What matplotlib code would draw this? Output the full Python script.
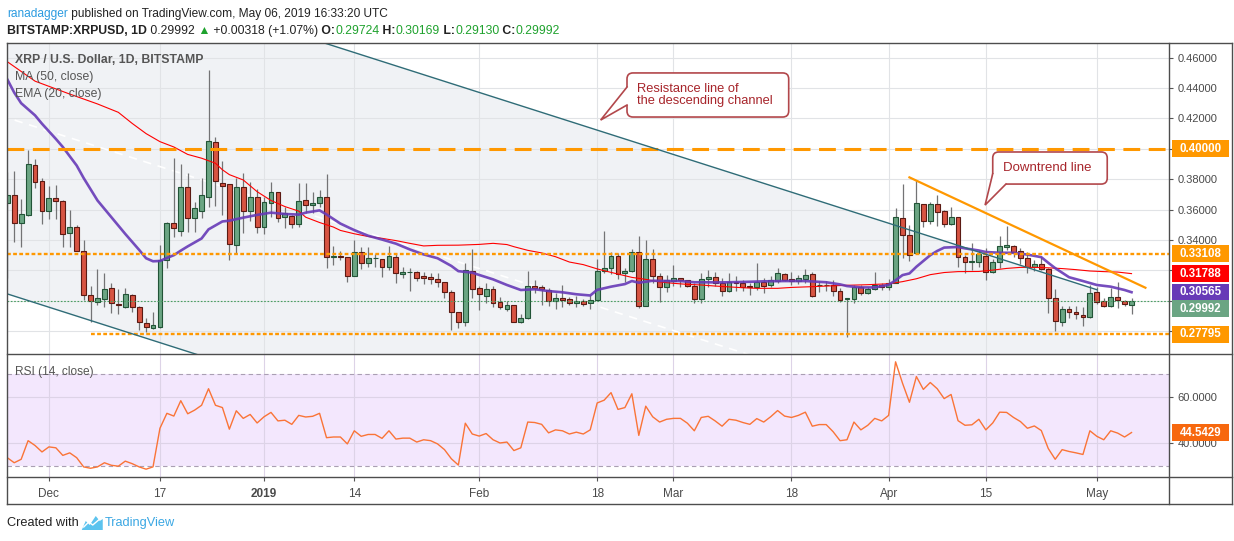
import numpy as np
import pandas as pd
import matplotlib
matplotlib.use("Agg")
import matplotlib.pyplot as plt
from matplotlib.patches import Rectangle, Polygon, FancyBboxPatch

plt.rcParams['font.family'] = ['Liberation Sans', 'DejaVu Sans']

W, H = 1234, 541

# ---------------------------------------------------------------- data
start_date = "2018-11-25"

opens = [
    0.3645, 0.3696, 0.3514, 0.3562, 0.3891, 0.3786, 0.3590, 0.3674, 0.3654, 0.3444,
    0.3483, 0.3330, 0.3036, 0.2990, 0.3014, 0.3082, 0.2979, 0.2957, 0.3036, 0.2961,
    0.2852, 0.2819, 0.2830, 0.3268, 0.3514, 0.3461, 0.3746, 0.3542, 0.3593, 0.3685,
    0.4042, 0.3777, 0.3766, 0.3364, 0.3746, 0.3593, 0.3681, 0.3488, 0.3645, 0.3713,
    0.3549, 0.3558, 0.3503, 0.3663, 0.3628, 0.3641, 0.3681, 0.3290, 0.3292, 0.3286,
    0.3163, 0.3319, 0.3247, 0.3279, 0.3273, 0.3225, 0.3286, 0.3174, 0.3187, 0.3187,
    0.3163, 0.3159, 0.3141, 0.3122, 0.3056, 0.2924, 0.2863, 0.3196, 0.3082, 0.3034,
    0.3075, 0.2990, 0.2948, 0.2970, 0.2863, 0.2885, 0.3095, 0.3088, 0.3071, 0.2996,
    0.3016, 0.3009, 0.2983, 0.2999, 0.2983, 0.3005, 0.3194, 0.3218, 0.3295, 0.3181,
    0.3194, 0.3319, 0.2968, 0.3273, 0.3161, 0.3093, 0.3132, 0.3148, 0.3135, 0.3097,
    0.3014, 0.3141, 0.3154, 0.3115, 0.3067, 0.3121, 0.3115, 0.3097, 0.3088, 0.3121,
    0.3102, 0.3130, 0.3176, 0.3141, 0.3132, 0.3146, 0.3176, 0.3102, 0.3102, 0.3102,
    0.3067, 0.3012, 0.3014, 0.3088, 0.3049, 0.3075, 0.3106, 0.3088, 0.3119, 0.3542,
    0.3430, 0.3312, 0.3634, 0.3527, 0.3634, 0.3590, 0.3503, 0.3549, 0.3290, 0.3255,
    0.3257, 0.3297, 0.3191, 0.3257, 0.3356, 0.3362, 0.3327, 0.3283, 0.3224, 0.3244,
    0.3207, 0.3016, 0.2862, 0.2944, 0.2924, 0.2906, 0.2891, 0.3060, 0.3000, 0.2965,
    0.3027, 0.3000, 0.29724]

highs = [
    0.3850, 0.3854, 0.3667, 0.3992, 0.3931, 0.3806, 0.3757, 0.3762, 0.3660, 0.3597,
    0.3498, 0.3400, 0.3097, 0.3209, 0.3180, 0.3120, 0.3075, 0.3086, 0.3042, 0.2965,
    0.2889, 0.2924, 0.3367, 0.3520, 0.3937, 0.3900, 0.3838, 0.3652, 0.3806, 0.4518,
    0.4075, 0.3922, 0.3770, 0.3806, 0.3839, 0.3784, 0.3733, 0.3685, 0.3784, 0.3718,
    0.3619, 0.3565, 0.3773, 0.3773, 0.3718, 0.3729, 0.3834, 0.3363, 0.3325, 0.3290,
    0.3400, 0.3356, 0.3356, 0.3308, 0.3278, 0.3361, 0.3308, 0.3225, 0.3214, 0.3198,
    0.3192, 0.3181, 0.3181, 0.3126, 0.3071, 0.2928, 0.3247, 0.3338, 0.3097, 0.3115,
    0.3097, 0.3023, 0.2999, 0.2975, 0.2913, 0.3198, 0.3137, 0.3104, 0.3082, 0.3049,
    0.3104, 0.3023, 0.3031, 0.3010, 0.3038, 0.3273, 0.3459, 0.3323, 0.3312, 0.3216,
    0.3338, 0.3426, 0.3400, 0.3338, 0.3185, 0.3170, 0.3235, 0.3152, 0.3138, 0.3115,
    0.3185, 0.3202, 0.3187, 0.3148, 0.3181, 0.3163, 0.3137, 0.3115, 0.3250, 0.3148,
    0.3163, 0.3214, 0.3180, 0.3192, 0.3170, 0.3209, 0.3189, 0.3128, 0.3128, 0.3137,
    0.3082, 0.3020, 0.3104, 0.3104, 0.3088, 0.3189, 0.3119, 0.3146, 0.3608, 0.3768,
    0.3498, 0.3794, 0.3640, 0.3652, 0.3696, 0.3595, 0.3619, 0.3553, 0.3301, 0.3382,
    0.3334, 0.3345, 0.3273, 0.3426, 0.3492, 0.3366, 0.3345, 0.3323, 0.3268, 0.3290,
    0.3213, 0.3075, 0.2966, 0.2968, 0.2966, 0.2961, 0.3104, 0.3088, 0.3016, 0.3082,
    0.3126, 0.3005, 0.30169]

lows = [
    0.3150, 0.3389, 0.3356, 0.3555, 0.3740, 0.3503, 0.3536, 0.3536, 0.3356, 0.3356,
    0.3325, 0.3005, 0.2862, 0.2972, 0.2961, 0.2917, 0.2910, 0.2950, 0.2924, 0.2808,
    0.2797, 0.2812, 0.2823, 0.3213, 0.3422, 0.3426, 0.3450, 0.3450, 0.3542, 0.3619,
    0.3623, 0.3564, 0.3270, 0.3316, 0.3444, 0.3527, 0.3444, 0.3440, 0.3554, 0.3516,
    0.3477, 0.3480, 0.3487, 0.3575, 0.3575, 0.3620, 0.3214, 0.3235, 0.3268, 0.3126,
    0.3160, 0.3207, 0.3225, 0.3220, 0.3159, 0.3203, 0.3115, 0.3148, 0.3067, 0.3133,
    0.3111, 0.3111, 0.3093, 0.3021, 0.2808, 0.2819, 0.2837, 0.3016, 0.2939, 0.2983,
    0.2957, 0.2944, 0.2935, 0.2860, 0.2857, 0.2878, 0.3053, 0.2972, 0.2966, 0.2948,
    0.2961, 0.2972, 0.2961, 0.2966, 0.2944, 0.2999, 0.3185, 0.3176, 0.3143, 0.3124,
    0.3190, 0.2950, 0.2965, 0.3115, 0.2990, 0.3058, 0.3097, 0.3093, 0.3088, 0.2983,
    0.2983, 0.3093, 0.3097, 0.3031, 0.3060, 0.3067, 0.3067, 0.3038, 0.3071, 0.3049,
    0.3088, 0.3119, 0.3132, 0.3104, 0.3110, 0.3115, 0.3027, 0.3060, 0.3067, 0.3031,
    0.2990, 0.2759, 0.2988, 0.3038, 0.3045, 0.3071, 0.3071, 0.3071, 0.3115, 0.3279,
    0.3264, 0.3305, 0.3483, 0.3505, 0.3494, 0.3487, 0.3498, 0.3224, 0.3185, 0.3202,
    0.3220, 0.3137, 0.3180, 0.3213, 0.3334, 0.3290, 0.3242, 0.3180, 0.3198, 0.3202,
    0.2922, 0.2803, 0.2836, 0.2884, 0.2878, 0.2836, 0.2889, 0.2979, 0.2961, 0.2961,
    0.2950, 0.2968, 0.29130]

closes = [
    0.3696, 0.3514, 0.3571, 0.3898, 0.3779, 0.3590, 0.3674, 0.3654, 0.3437, 0.3483,
    0.3330, 0.3036, 0.3001, 0.3016, 0.3075, 0.2983, 0.2975, 0.3042, 0.2961, 0.2858,
    0.2825, 0.2839, 0.3268, 0.3514, 0.3477, 0.3746, 0.3542, 0.3613, 0.3694, 0.4051,
    0.3790, 0.3757, 0.3371, 0.3746, 0.3593, 0.3681, 0.3488, 0.3650, 0.3713, 0.3547,
    0.3575, 0.3503, 0.3654, 0.3628, 0.3641, 0.3681, 0.3286, 0.3292, 0.3288, 0.3163,
    0.3323, 0.3247, 0.3282, 0.3283, 0.3225, 0.3295, 0.3181, 0.3187, 0.3189, 0.3148,
    0.3148, 0.3146, 0.3122, 0.3056, 0.2929, 0.2863, 0.3203, 0.3080, 0.3047, 0.3078,
    0.2988, 0.2957, 0.2970, 0.2863, 0.2887, 0.3095, 0.3084, 0.3080, 0.2996, 0.3018,
    0.3007, 0.2983, 0.2999, 0.2977, 0.3005, 0.3194, 0.3218, 0.3295, 0.3176, 0.3196,
    0.3319, 0.2968, 0.3273, 0.3165, 0.3093, 0.3137, 0.3148, 0.3137, 0.3100, 0.3014,
    0.3141, 0.3154, 0.3115, 0.3067, 0.3121, 0.3115, 0.3088, 0.3088, 0.3121, 0.3097,
    0.3137, 0.3181, 0.3137, 0.3132, 0.3148, 0.3168, 0.3031, 0.3106, 0.3106, 0.3067,
    0.3005, 0.3018, 0.3088, 0.3053, 0.3075, 0.3102, 0.3088, 0.3119, 0.3549, 0.3430,
    0.3301, 0.3641, 0.3527, 0.3634, 0.3582, 0.3503, 0.3549, 0.3290, 0.3253, 0.3264,
    0.3305, 0.3191, 0.3257, 0.3362, 0.3365, 0.3323, 0.3283, 0.3224, 0.3240, 0.3207,
    0.3016, 0.2869, 0.2944, 0.2924, 0.2911, 0.2891, 0.3053, 0.2994, 0.2965, 0.3027,
    0.3005, 0.2976, 0.29992]

rsi = [
    33.6, 31.4, 32.9, 41.0, 38.9, 36.1, 38.3, 37.9, 34.6, 35.7,
    33.6, 29.6, 29.0, 29.6, 31.4, 30.3, 29.9, 32.1, 31.0, 29.6,
    28.6, 29.6, 46.4, 52.9, 51.7, 58.4, 52.7, 54.3, 56.4, 63.6,
    56.4, 55.4, 46.0, 54.0, 50.7, 52.4, 48.7, 51.4, 53.3, 49.6,
    49.9, 48.1, 52.0, 51.3, 51.6, 52.9, 42.3, 42.6, 42.6, 39.6,
    45.3, 42.9, 43.7, 43.7, 42.0, 45.3, 41.7, 42.1, 42.1, 40.4,
    41.4, 41.0, 39.6, 37.1, 33.1, 30.4, 48.6, 43.9, 43.0, 44.1,
    41.4, 40.0, 40.4, 36.7, 37.9, 49.1, 48.9, 48.1, 44.4, 45.7,
    45.3, 43.9, 44.7, 43.9, 45.7, 57.4, 58.6, 61.9, 54.6, 55.4,
    61.4, 43.3, 56.0, 51.4, 49.1, 50.3, 50.7, 50.7, 48.6, 45.3,
    51.1, 51.6, 49.6, 47.3, 50.3, 49.9, 48.9, 48.1, 50.6, 49.1,
    51.4, 54.1, 51.7, 51.1, 52.0, 53.4, 47.3, 48.0, 48.0, 44.9,
    41.0, 41.4, 49.1, 45.7, 47.7, 50.7, 49.6, 52.0, 75.3, 66.0,
    57.7, 68.9, 63.3, 66.3, 63.6, 59.3, 61.1, 49.7, 47.7, 47.9,
    50.3, 45.7, 48.7, 53.4, 53.3, 51.1, 49.3, 46.4, 47.4, 45.4,
    37.6, 32.9, 37.1, 36.3, 35.7, 35.0, 45.3, 42.9, 41.4, 45.3,
    44.3, 42.6, 44.5429]

# MA(50) and EMA(20) at day indices (0 = Nov 25)
ma50_days = [0, 4, 9, 13, 16, 18, 20, 22, 24, 26, 28, 30, 31, 32, 34, 36, 38, 40,
             42, 43, 45, 47, 48, 50, 52, 54, 56, 58, 60, 62, 65, 68, 70, 72, 73,
             75, 77, 79, 81, 83, 85, 86, 88, 90, 92, 94, 96, 98, 100, 102, 106,
             108, 111, 113, 116, 118, 121, 124, 127, 129, 131, 133, 135, 137,
             140, 142, 144, 146, 148, 150, 152, 154, 156, 158, 160, 162]
ma50_vals = [0.4573, 0.4445, 0.4360, 0.4295, 0.4240, 0.4167, 0.4100, 0.4047,
             0.4012, 0.3963, 0.3938, 0.3905, 0.3862, 0.3830, 0.3795, 0.3718,
             0.3660, 0.3620, 0.3590, 0.3550, 0.3515, 0.3485, 0.3463, 0.3441,
             0.3423, 0.3411, 0.3396, 0.3378, 0.3361, 0.3365, 0.3366, 0.3371,
             0.3378, 0.3370, 0.3356, 0.3332, 0.3315, 0.3290, 0.3255, 0.3238,
             0.3210, 0.3198, 0.3176, 0.3154, 0.3141, 0.3124, 0.3115, 0.3108,
             0.3104, 0.3097, 0.3086, 0.3082, 0.3082, 0.3088, 0.3093, 0.3097,
             0.3102, 0.3106, 0.3112, 0.3126, 0.3145, 0.3172, 0.3186, 0.3192,
             0.3193, 0.3202, 0.3213, 0.3220, 0.3220, 0.3217, 0.3212, 0.3205,
             0.3196, 0.3192, 0.3189, 0.31788]

ema20_days = [0, 1, 2, 4, 5, 7, 8, 10, 11, 13, 15, 17, 19, 20, 21, 22, 23, 24,
              25, 26, 28, 29, 31, 32, 34, 36, 38, 40, 42, 43, 45, 46, 48, 50,
              52, 54, 56, 58, 60, 62, 64, 65, 67, 68, 70, 72, 74, 76, 78, 80,
              82, 84, 85, 87, 89, 90, 91, 93, 95, 97, 99, 103, 106, 109, 112,
              115, 118, 120, 121, 123, 125, 127, 128, 129, 130, 131, 132, 133,
              134, 135, 137, 138, 140, 141, 143, 145, 147, 149, 150, 151, 152,
              153, 155, 157, 159, 161, 162]
ema20_vals = [0.4457, 0.4370, 0.4300, 0.4220, 0.4165, 0.4065, 0.4012, 0.3890,
              0.3808, 0.3660, 0.3550, 0.3440, 0.3335, 0.3280, 0.3260, 0.3262,
              0.3282, 0.3300, 0.3330, 0.3358, 0.3410, 0.3470, 0.3522, 0.3527,
              0.3547, 0.3565, 0.3580, 0.3571, 0.3567, 0.3580, 0.3595, 0.3568,
              0.3508, 0.3465, 0.3428, 0.3403, 0.3376, 0.3338, 0.3305, 0.3280,
              0.3229, 0.3195, 0.3185, 0.3170, 0.3141, 0.3104, 0.3071, 0.3076,
              0.3064, 0.3056, 0.3043, 0.3035, 0.3072, 0.3093, 0.3110, 0.3130,
              0.3119, 0.3132, 0.3130, 0.3130, 0.3122, 0.3121, 0.3124, 0.3128,
              0.3130, 0.3130, 0.3122, 0.3108, 0.3097, 0.3088, 0.3088, 0.3105,
              0.3135, 0.3169, 0.3180, 0.3224, 0.3262, 0.3300, 0.3328, 0.3350,
              0.3354, 0.3345, 0.3331, 0.3321, 0.3316, 0.3316, 0.3304, 0.3287,
              0.3250, 0.3215, 0.3185, 0.3155, 0.3130, 0.3104, 0.3093, 0.3071,
              0.30565]

tick_dates = ["2018-12-01", "2018-12-17", "2019-01-01", "2019-01-14", "2019-02-01",
              "2019-02-18", "2019-03-01", "2019-03-18", "2019-04-01", "2019-04-15",
              "2019-05-01"]
tick_labels = ["Dec", "17", "2019", "14", "Feb", "18", "Mar", "18", "Apr", "15", "May"]
price_ticks = [0.28, 0.30, 0.32, 0.34, 0.36, 0.38, 0.40, 0.42, 0.44, 0.46]
hidden_price_ticks = [0.28, 0.30, 0.32, 0.40]   # covered by the value badges
rsi_ticks = [40, 60]
rsi_band = [30, 70]

# drawings on the chart
resistance_level = 0.40
support_level = 0.33108
low_level = 0.27795
low_level_from = 12
channel_days = [-1, 157]
channel_top = [0.5377, 0.3073]
channel_bottom = [0.3060, 0.0756]
downtrend_days = [130, 164]
downtrend_prices = [0.3812, 0.3086]

# callouts: box corners, tail base points and tip, as (day, price)
resist_note = "Resistance line of\nthe descending channel"
resist_box = [(89.3, 0.4499), (112.6, 0.4209)]
resist_tail = [(89.3, 0.4406), (85.5, 0.4189), (89.3, 0.4288)]
trend_note = "Downtrend line"
trend_box = [(142.0, 0.3979), (158.5, 0.3768)]
trend_tail = [(142.0, 0.3836), (140.9, 0.3630), (143.9, 0.3768)]

# ---------------------------------------------------------------- colours
UP, UP_EDGE = "#6ba583", "#225437"
DOWN, DOWN_EDGE = "#d75442", "#5b1a13"
WICK = "#737375"
ORANGE = "#ff9800"
MA_RED = "#ff0000"
EMA_PURPLE = "#673ab7"
LAST_GREEN = "#4a9f62"
CHANNEL = "#2f6c77"
RSI_LINE = "#fa7437"
RSI_BOX = "#f7680e"
GRID = "#e1e3e6"
TXT = "#4a4a4a"
CALLOUT = "#b2474b"
CALLOUT_TXT = "#a7252b"

# ---------------------------------------------------------------- layout
fig = plt.figure(figsize=(W / 100, H / 100), dpi=100)
fig.patch.set_facecolor("white")


def fx(px):
    return px / W


def fy(py):
    return 1 - py / H


L, R, RR = 7, 1169, 1232
T, M, B = 43, 354, 477

ax = fig.add_axes([fx(L), fy(M), fx(R - L), (M - T) / H])
axr = fig.add_axes([fx(L), fy(B), fx(R - L), (B - M) / H], sharex=ax)
axp = fig.add_axes([fx(R), fy(M), fx(RR - R), (M - T) / H], sharey=ax)
axq = fig.add_axes([fx(R), fy(B), fx(RR - R), (B - M) / H], sharey=axr)

days = np.arange(len(closes))
start = pd.Timestamp(start_date)
tick_pos = [(pd.Timestamp(d) - start).days for d in tick_dates]

xmin, xmax = -0.04, 167.4
ax.set_xlim(xmin, xmax)
ax.set_ylim(0.265, 0.4696)
axr.set_ylim(25.2, 78.7)

for a in (ax, axr):
    for s in a.spines.values():
        s.set_visible(False)
    a.set_axisbelow(True)

# main pane ticks & grid
ax.yaxis.tick_right()
ax.set_yticks(price_ticks)
ax.set_yticklabels(["" if v in hidden_price_ticks else f"{v:.5f}" for v in price_ticks])
ax.tick_params(axis="y", length=3, width=0.8, color="#555555", labelsize=8,
               labelcolor=TXT, pad=3)
ax.set_xticks(tick_pos)
ax.tick_params(axis="x", bottom=False, labelbottom=False)
ax.grid(True, color=GRID, lw=0.8)

# rsi pane ticks & grid
axr.yaxis.tick_right()
axr.set_yticks(rsi_ticks)
axr.set_yticklabels([f"{v:.4f}" for v in rsi_ticks])
axr.tick_params(axis="y", length=3, width=0.8, color="#555555", labelsize=8,
                labelcolor=TXT, pad=3)
axr.set_xticks(tick_pos)
axr.set_xticklabels(tick_labels)
axr.tick_params(axis="x", length=3, width=0.8, color="#555555", labelsize=8.5,
                labelcolor=TXT, pad=5)
for lab in axr.get_xticklabels():
    if lab.get_text() == "2019":
        lab.set_fontweight("bold")
axr.grid(True, color="#ddd3e7", lw=0.8)

# channel background, lines
top = np.array(channel_top)
bot = np.array(channel_bottom)
ax.fill_between(channel_days, bot, top, color="#f0f2f5", lw=0, zorder=0.1)
ax.plot(channel_days, (top + bot) / 2, color="white", lw=1.2, dashes=(5, 4), zorder=1)

# candles
o, h, l, c = map(np.array, (opens, highs, lows, closes))
up = c >= o
body_lo = np.minimum(o, c)
body_h = np.maximum(np.abs(c - o), 0.0002)
ax.vlines(days, l, h, color=WICK, lw=0.9, zorder=2)
ax.bar(days[up], body_h[up], bottom=body_lo[up], width=0.7, color=UP,
       edgecolor=UP_EDGE, lw=0.8, zorder=2.1)
ax.bar(days[~up], body_h[~up], bottom=body_lo[~up], width=0.7, color=DOWN,
       edgecolor=DOWN_EDGE, lw=0.8, zorder=2.1)

# indicators
ax.plot(ma50_days, ma50_vals, color=MA_RED, lw=0.8, zorder=3)
ax.plot(ema20_days, ema20_vals, color=EMA_PURPLE, lw=1.9, alpha=0.9, zorder=3.1)

# horizontal levels and trend lines
ax.axhline(closes[-1], color=LAST_GREEN, lw=0.8, dashes=(1.5, 1.5), zorder=3.5)
ax.axhline(resistance_level, color=ORANGE, lw=2.2, dashes=(5.5, 2.8), zorder=4)
ax.axhline(support_level, color=ORANGE, lw=1.7, dashes=(1.6, 1.0), zorder=4)
ax.plot([low_level_from, xmax], [low_level, low_level], color=ORANGE, lw=1.7,
        dashes=(1.6, 1.0), zorder=4)
ax.plot(channel_days, top, color=CHANNEL, lw=1.0, zorder=4)
ax.plot(channel_days, bot, color=CHANNEL, lw=1.0, zorder=4)
ax.plot(downtrend_days, downtrend_prices, color=ORANGE, lw=1.6, zorder=4)

# rsi pane
axr.axhspan(rsi_band[0], rsi_band[1], color="#f3e7fd", lw=0, zorder=0.1)
for v in rsi_band:
    axr.axhline(v, color="#aa9fb3", lw=0.8, dashes=(4, 3), zorder=1)
axr.plot(days, rsi, color=RSI_LINE, lw=1.0, zorder=3)

# price scale badges
for a in (axp, axq):
    a.set_xlim(0, RR - R)
    a.axis("off")

main_hh = 8.5 / 1520
main_labels = [
    (resistance_level, ORANGE, 0.0),
    (support_level, ORANGE, 0.0),
    (ma50_vals[-1], MA_RED, 0.0),
    (ema20_vals[-1], EMA_PURPLE, 0.0),
    (closes[-1], UP, -8 / 1520),
    (low_level, ORANGE, 0.0),
]
for val, col, shift in main_labels:
    axp.add_patch(Rectangle((3, val - main_hh + shift), 57, 2 * main_hh,
                            facecolor=col, edgecolor="none", zorder=5))
    axp.text(31.5, val + shift, f"{val:.5f}", color="white", fontsize=8.3,
             fontweight="bold", ha="center", va="center", zorder=6)

rsi_hh = 8.5 / 2.3
axq.add_patch(Rectangle((3, rsi[-1] - rsi_hh), 57, 2 * rsi_hh,
                        facecolor=RSI_BOX, edgecolor="none", zorder=5))
axq.text(31.5, rsi[-1], f"{rsi[-1]:.4f}", color="white", fontsize=8.3,
         fontweight="bold", ha="center", va="center", zorder=6)

# ---------------------------------------------------------------- overlay (pixels)
ov = fig.add_axes([0, 0, 1, 1], zorder=10)
ov.set_xlim(0, W)
ov.set_ylim(H, 0)
ov.axis("off")


def to_px(pt):
    X, Y = ax.transData.transform(pt)
    return X, H - Y


def callout(note, box, tail, size):
    (x0, y0), (x1, y1) = to_px(box[0]), to_px(box[1])
    b1, tip, b2 = (to_px(p) for p in tail)
    ov.add_patch(FancyBboxPatch((x0, y0), x1 - x0, y1 - y0,
                                boxstyle="round,pad=0,rounding_size=6",
                                facecolor="white", edgecolor=CALLOUT, lw=1.2, zorder=5))
    # white patch joins the tail to the box, then the tail outline
    inner = [(min(max(b1[0], x0 + 3), x1 - 3), min(max(b1[1], y0 + 3), y1 - 3)),
             (x0 + 3, y1 - 3) if b1[0] != b2[0] and b1[1] != b2[1] else None,
             (min(max(b2[0], x0 + 3), x1 - 3), min(max(b2[1], y0 + 3), y1 - 3))]
    inner = [p for p in inner if p is not None]
    ov.add_patch(Polygon([b1, tip, b2] + inner[::-1], closed=True,
                         facecolor="white", edgecolor="none", zorder=6))
    ov.plot([b1[0], tip[0], b2[0]], [b1[1], tip[1], b2[1]], color=CALLOUT, lw=1.2,
            zorder=7, solid_joinstyle="miter")
    ov.text(x0 + 10, (y0 + y1) / 2, note, color=CALLOUT_TXT, fontsize=size,
            ha="left", va="center", linespacing=1.1, zorder=8)


callout(resist_note, resist_box, resist_tail, 9.3)
callout(trend_note, trend_box, trend_tail, 9.5)

frame_lines = [(L, T, RR, T), (L, M, RR, M), (L, B, RR, B), (L, 504, RR, 504),
               (L, T, L, 504), (R, T, R, 504), (RR, T, RR, 504)]
for x0, y0, x1, y1 in frame_lines:
    ov.plot([x0, x1], [y0, y1], color="#4d4d4d", lw=1.0)

renderer = fig.canvas.get_renderer()
HEAD_FONT = ["Liberation Sans", "DejaVu Sans"]


def put_runs(x, y, runs, size, family):
    for text, color, weight in runs:
        t = ov.text(x, y, text, color=color, fontsize=size, fontweight=weight,
                    family=family, ha="left", va="center")
        x += t.get_window_extent(renderer).width
    return x


DARK = "#222222"
GREEN = "#1fa22e"
put_runs(7, 14, [("ranadagger", "#2b9be0", "normal"),
                 (" published on TradingView.com, May 06, 2019 16:33:20 UTC", DARK, "normal")],
         8.6, HEAD_FONT)
put_runs(7, 31, [("BITSTAMP:XRPUSD, 1D", DARK, "bold"),
                 (f" {closes[-1]:.5f}", DARK, "normal"),
                 (" \u25b2", GREEN, "normal"),
                 (" +0.00318 (+1.07%)", DARK, "normal"),
                 (" O:", DARK, "bold"), (f"{opens[-1]:.5f}", GREEN, "normal"),
                 (" H:", DARK, "bold"), (f"{highs[-1]:.5f}", GREEN, "normal"),
                 (" L:", DARK, "bold"), (f"{lows[-1]:.5f}", GREEN, "normal"),
                 (" C:", DARK, "bold"), (f"{closes[-1]:.5f}", GREEN, "normal")],
         8.8, HEAD_FONT)

ov.text(15, 60, "XRP / U.S. Dollar, 1D, BITSTAMP", color="#555555", fontsize=8.8,
        fontweight="bold", va="center")
ov.text(15, 77, "MA (50, close)", color="#555555", fontsize=8.8, va="center")
ov.text(15, 94, "EMA (20, close)", color="#555555", fontsize=8.8, va="center")
ov.text(15, 372, "RSI (14, close)", color="#555555", fontsize=8.6, va="center")

# footer
xe = put_runs(7, 523, [("Created with", DARK, "normal")], 9.2, HEAD_FONT)
logo = Polygon([(xe + 3, 530), (xe + 7, 521), (xe + 11, 525), (xe + 17, 516),
                (xe + 21, 521), (xe + 24, 519), (xe + 24, 530)],
               closed=True, facecolor="#5cc3ee", edgecolor="none")
ov.add_patch(logo)
ov.plot([xe + 5, xe + 10, xe + 14, xe + 21], [527, 522, 525, 519], color="white", lw=1.0)
put_runs(xe + 26, 523, [("TradingView", "#3aa7e3", "normal")], 9.2, HEAD_FONT)

fig.savefig("out.png", dpi=100, facecolor="white")
